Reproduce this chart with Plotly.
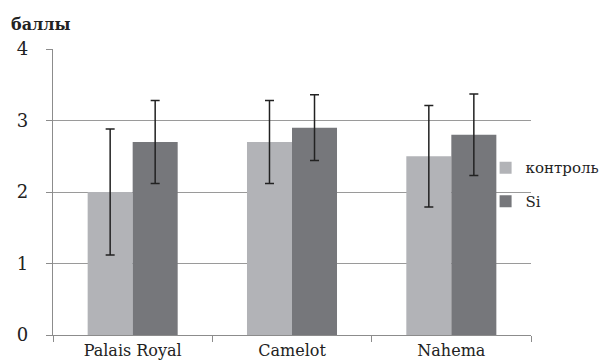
import plotly.graph_objects as go

categories = ["Palais Royal", "Camelot", "Nahema"]
control_vals = [2.0, 2.7, 2.5]
control_err = [0.88, 0.58, 0.71]
si_vals = [2.7, 2.9, 2.8]
si_err = [0.58, 0.46, 0.57]
y_ticks = [0, 1, 2, 3, 4]

font_family = "DejaVu Serif"

fig = go.Figure()
fig.add_trace(go.Bar(
    x=categories, y=control_vals, name="контроль", legendgroup="a",
    marker=dict(color="#b2b3b7", line=dict(width=0)),
    error_y=dict(type="data", array=control_err, color="#222222", thickness=1.5, width=4.5),
))
fig.add_trace(go.Bar(
    x=categories, y=si_vals, name="Si", legendgroup="b",
    marker=dict(color="#76777b", line=dict(width=0)),
    error_y=dict(type="data", array=si_err, color="#222222", thickness=1.5, width=4.5),
))

fig.update_layout(
    width=609, height=360,
    margin=dict(l=45, r=86, t=41, b=33, autoexpand=False),
    barmode="group", bargap=0.435, bargroupgap=0,
    plot_bgcolor="white", paper_bgcolor="white",
    font=dict(family=font_family, color="#222222"),
    showlegend=True,
    legend=dict(x=0.905, y=0.642, xanchor="left", yanchor="top",
                font=dict(size=15, family=font_family, color="#222222"),
                itemwidth=30, tracegroupgap=11, bgcolor="rgba(0,0,0,0)"),
    annotations=[dict(text="<b>баллы</b>", xref="paper", yref="paper",
                      x=-0.073, y=1.0, yshift=13, xshift=-9, xanchor="left", yanchor="bottom",
                      showarrow=False, font=dict(size=16, family=font_family, color="#222222"))],
)
fig.update_xaxes(
    type="category", showline=True, linecolor="#8c8c8c", linewidth=1.2,
    ticks="outside", tickson="boundaries", ticklen=6, tickcolor="#8c8c8c",
    showgrid=False, automargin=False, ticklabelstandoff=1,
    tickfont=dict(size=16, family=font_family, color="#222222"),
)
fig.update_yaxes(
    range=[0, 4], tickvals=y_ticks, showline=True, linecolor="#8c8c8c", linewidth=1.2,
    ticks="outside", ticklen=6, tickcolor="#8c8c8c", automargin=False,
    showgrid=True, gridcolor="#9a9a9a", gridwidth=1.2, zeroline=False,
    ticklabelstandoff=14,
    tickfont=dict(size=18, family=font_family, color="#222222"),
)

fig.write_html("out.html")
